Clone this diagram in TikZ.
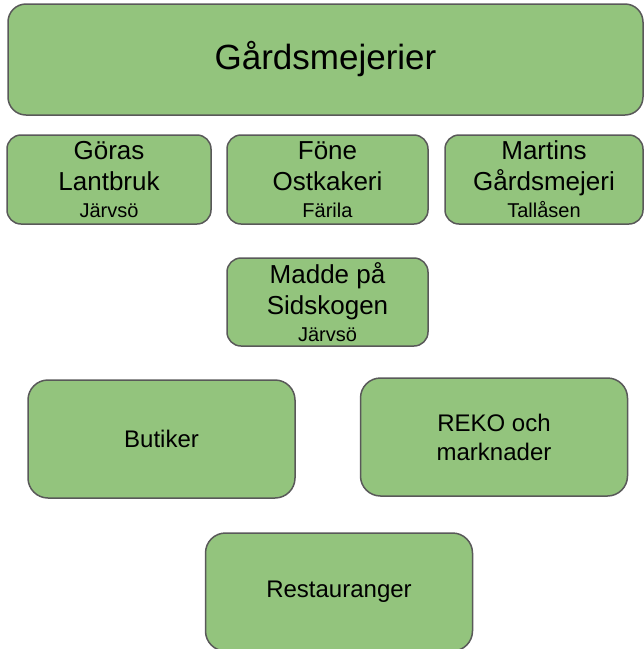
\documentclass[tikz,border=0pt]{standalone}
\usepackage{fontspec}
\setmainfont{Liberation Sans}
\usepackage{xcolor}
\definecolor{boxgreen}{HTML}{93C47D}
\definecolor{boxline}{HTML}{595959}
\newcommand{\farmplace}[1]{{\fontsize{20}{27}\selectfont #1}}

\begin{document}
\begin{tikzpicture}[
    x=1pt,
    y=-1pt,
    unit/.style={
      draw=boxline,
      fill=boxgreen,
      line width=1.5pt,
      rounded corners=14pt,
      align=center,
      inner sep=0pt
    },
    farm/.style={
      unit,
      minimum height=89pt,
      font=\fontsize{26}{31}\selectfont
    },
    outlet/.style={
      unit,
      rounded corners=20pt,
      minimum width=267pt,
      minimum height=118pt,
      font=\fontsize{24}{29}\selectfont
    }
  ]
  \useasboundingbox (0,0) rectangle (644,649);
  \node[unit,rounded corners=18pt,minimum width=635pt,minimum height=111pt,
    font=\fontsize{35}{40}\selectfont] (dairies) at (325.5,59.5) {Gårdsmejerier};
  \node[farm,minimum width=204pt] (goras) at (109,179.5) {Göras\\Lantbruk\\[-4pt]\farmplace{Järvsö}};
  \node[farm,minimum width=201pt] (fone) at (327.5,179.5) {Föne\\Ostkakeri\\[-4pt]\farmplace{Färila}};
  \node[farm,minimum width=198pt] (martins) at (544,179.5) {Martins\\Gårdsmejeri\\[-4pt]\farmplace{Tallåsen}};
  \node[farm,minimum width=201pt,minimum height=88pt] (madde) at (327.5,302) {Madde på\\Sidskogen\\[-4pt]\farmplace{Järvsö}};
  \node[outlet] (shops) at (161.5,439) {Butiker};
  \node[outlet] (reko) at (494,437) {REKO och\\marknader};
  \node[outlet] (restaurants) at (339,592) {Restauranger};
\end{tikzpicture}
\end{document}
